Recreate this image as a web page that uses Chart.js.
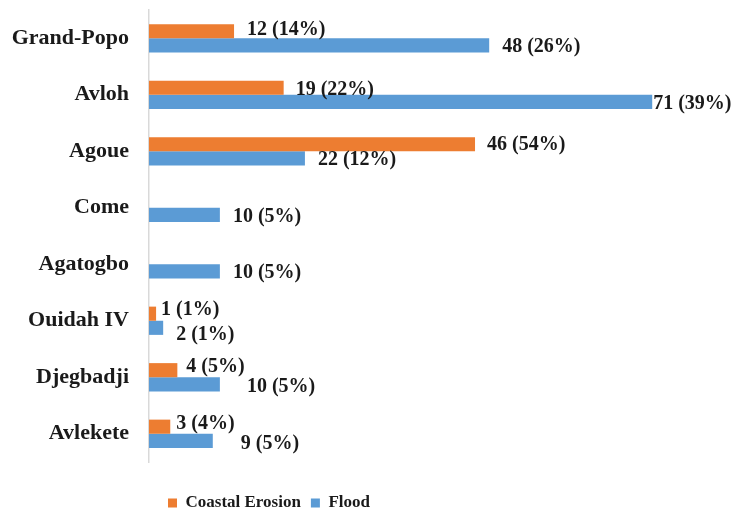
<!DOCTYPE html>
<html>
<head>
<meta charset="utf-8">
<script src="https://cdn.jsdelivr.net/npm/chart.js@4.4.1/dist/chart.umd.min.js"></script>
<style>
  html, body { margin: 0; padding: 0; background: #ffffff; }
  #wrap { width: 740px; height: 514px; position: relative; }
</style>
</head>
<body>
<div id="wrap"><canvas id="chart" width="740" height="514"></canvas></div>
<script>
// Localities surveyed, top to bottom
const localities = ['Grand-Popo', 'Avloh', 'Agoue', 'Come', 'Agatogbo', 'Ouidah IV', 'Djegbadji', 'Avlekete'];

// Number of respondents citing each hazard
const erosionCounts = [12, 19, 46, 0, 0, 1, 4, 3];
const floodCounts   = [48, 71, 22, 10, 10, 2, 10, 9];

// Share of each hazard's total, in percent
const erosionShare = [14, 22, 54, 0, 0, 1, 5, 4];
const floodShare   = [26, 39, 12, 5, 5, 1, 5, 5];

const seriesNames = ['Coastal Erosion', 'Flood'];

// Label nudges [dx, dy] in pixels from the end of each bar
const erosionNudge = [[13, -1], [12, 2], [12, 1], [0, 0], [0, 0], [5, -4], [9, -3], [6, -3]];
const floodNudge   = [[13, 2], [1, 2], [13, 2], [13, 2], [13, 2], [13, 7], [27, 3], [28, 3]];

const ORANGE = '#ED7D31';
const BLUE = '#5B9BD5';
const INK = '#1a1a1a';
const SERIF = '"Liberation Serif", "Times New Roman", serif';
const LEGEND_FONT = 17;
const LEGEND_PAD = 10;

const shares = [erosionShare, floodShare];
const nudges = [erosionNudge, floodNudge];

// Writes "count (share%)" just past the end of each non-empty bar
const valueLabels = {
  id: 'valueLabels',
  afterDatasetsDraw(chart) {
    const ctx = chart.ctx;
    ctx.save();
    ctx.font = 'bold 20px ' + SERIF;
    ctx.fillStyle = INK;
    ctx.textAlign = 'left';
    ctx.textBaseline = 'middle';
    chart.data.datasets.forEach((ds, di) => {
      const meta = chart.getDatasetMeta(di);
      meta.data.forEach((bar, i) => {
        const v = ds.data[i];
        if (!v) return;
        const [dx, dy] = nudges[di][i];
        ctx.fillText(v + ' (' + shares[di][i] + '%)', bar.x + dx, bar.y + dy);
      });
    });
    ctx.restore();
  }
};

// Places the legend row under the left part of the plot
const legendPlacement = {
  id: 'legendPlacement',
  afterLayout(chart) {
    const lg = chart.legend;
    if (!lg) return;
    const w = lg.right - lg.left;
    const h = lg.bottom - lg.top;
    lg.left = 168 - LEGEND_PAD;
    lg.right = lg.left + w;
    lg.top = 503 - LEGEND_PAD - LEGEND_FONT / 2;
    lg.bottom = lg.top + h;
  }
};

new Chart(document.getElementById('chart'), {
  type: 'bar',
  data: {
    labels: localities,
    datasets: [
      { label: seriesNames[0], data: erosionCounts, backgroundColor: ORANGE, borderWidth: 0 },
      { label: seriesNames[1], data: floodCounts, backgroundColor: BLUE, borderWidth: 0 }
    ]
  },
  options: {
    indexAxis: 'y',
    responsive: false,
    animation: false,
    devicePixelRatio: 1,
    barPercentage: 1,
    categoryPercentage: 0.5,
    layout: { padding: { top: 10, right: 24, bottom: 15, left: 0 } },
    scales: {
      x: {
        display: false,
        min: 0,
        max: 80
      },
      y: {
        grid: { display: false, drawTicks: false },
        border: { display: true, color: '#d9d9d9', width: 1.5 },
        ticks: {
          color: INK,
          padding: 20,
          font: { family: SERIF, size: 22, weight: 'bold' }
        },
        afterFit(scale) {
          scale.width = 149;
          scale.paddingTop = 0;
          scale.paddingBottom = 0;
        }
      }
    },
    plugins: {
      legend: {
        position: 'bottom',
        align: 'start',
        labels: {
          color: INK,
          boxWidth: 9,
          boxHeight: 9,
          padding: LEGEND_PAD,
          font: { family: SERIF, size: LEGEND_FONT, weight: 'bold' }
        }
      },
      tooltip: { enabled: false }
    }
  },
  plugins: [valueLabels, legendPlacement]
});
</script>
</body>
</html>
